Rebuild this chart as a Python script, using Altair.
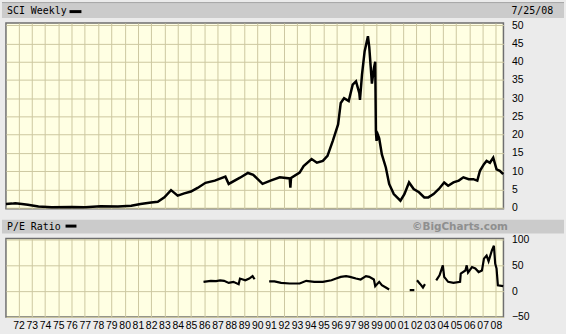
import altair as alt
import pandas as pd

# ---- data ----
price_years = [1971.05, 1971.5, 1971.75, 1972.25, 1972.7, 1973.5, 1974.5, 1976.0, 1977.0, 1978.2,
               1979.5, 1980.5, 1981.2, 1982.0, 1982.5, 1983.0, 1983.5, 1984.0, 1984.5, 1985.0,
               1985.5, 1986.1, 1986.8, 1987.6, 1987.85, 1988.7, 1989.3, 1989.7, 1990.4, 1991.0,
               1991.7, 1992.45, 1992.5, 1992.55, 1993.2, 1993.5, 1994.1, 1994.5, 1994.95, 1995.3,
               1995.7, 1996.1, 1996.3, 1996.55, 1996.9, 1997.2, 1997.45, 1997.7, 1997.75, 1997.9,
               1998.1, 1998.35, 1998.45, 1998.55, 1998.65, 1998.8, 1998.9, 1998.95, 1999.0, 1999.1,
               1999.2, 1999.4, 1999.7, 1999.95, 2000.3, 2000.8, 2001.1, 2001.45, 2001.8, 2002.2,
               2002.6, 2002.9, 2003.3, 2003.7, 2004.1, 2004.4, 2004.8, 2005.2, 2005.55, 2005.95,
               2006.3, 2006.6, 2006.8, 2007.1, 2007.3, 2007.55, 2007.8, 2008.05, 2008.3, 2008.55]
price_values = [1.0, 1.1, 1.2, 1.0, 0.8, 0.3, 0.1, 0.2, 0.1, 0.35,
                0.3, 0.5, 1.0, 1.4, 1.6, 2.8, 4.8, 3.3, 3.9, 4.4,
                5.4, 6.8, 7.4, 8.5, 6.5, 8.2, 9.5, 9.0, 6.5, 7.4,
                8.3, 8.0, 5.5, 8.1, 9.6, 11.4, 13.3, 12.3, 12.8, 14.2,
                18.3, 22.8, 28.7, 30.0, 29.2, 33.7, 34.6, 31.4, 29.5, 36.4,
                42.8, 47.0, 44.0, 39.0, 34.0, 38.2, 40.0, 21.0, 18.3, 20.0,
                19.0, 14.6, 11.0, 6.5, 3.7, 1.9, 3.7, 6.9, 5.1, 4.2,
                2.8, 2.8, 3.7, 5.1, 6.9, 6.0, 6.9, 7.4, 8.3, 7.8,
                7.8, 7.4, 10.1, 11.9, 12.8, 12.3, 13.7, 10.5, 10.1, 9.2]

pe_years = [1985.95, 1986.5, 1986.9, 1987.2, 1987.5, 1987.85, 1988.2, 1988.6, 1988.7, 1989.1,
            1989.4, 1989.65, 1989.8,
            1990.9, 1991.3, 1991.8, 1992.45, 1993.2, 1993.7, 1994.3, 1994.95, 1995.6, 1995.95,
            1996.3, 1996.7, 1997.0, 1997.45, 1997.8, 1998.2, 1998.45, 1998.8, 1998.9, 1999.2,
            1999.4, 1999.7, 1999.95,
            2001.5, 2001.85,
            2002.05, 2002.3, 2002.5, 2002.65,
            2003.5, 2003.75, 2004.0, 2004.1, 2004.4, 2004.8, 2005.3, 2005.35, 2005.7, 2005.8,
            2005.9, 2006.2, 2006.45, 2006.7, 2006.95, 2007.1, 2007.3, 2007.45, 2007.7, 2007.85,
            2007.95, 2008.05, 2008.15, 2008.55]
pe_values = [18, 20, 19.5, 21, 20, 16, 18, 13.5, 24.4, 21,
             24.4, 29, 23,
             19, 19, 16, 14.8, 14.8, 20, 18, 18, 21, 24.4,
             27.6, 29, 27.6, 24.4, 22.5, 29, 27.6, 22.5, 9.6, 18,
             11.5, 7, 3.2,
             2, 2,
             21, 13.5, 7, 13.5,
             21, 30.8, 50, 27.6, 18, 16, 18, 34, 40, 50,
             36, 46.7, 44, 37, 40, 63, 69, 58, 79, 88,
             53, 44, 11.5, 9.6]
pe_segment = [1] * 13 + [2] * 23 + [3] * 2 + [4] * 4 + [5] * 24

year_ticks = list(range(1972, 2009))
price_ticks = list(range(0, 51, 5))
pe_ticks = [-50, 0, 50, 100]

top_title = "SCI Weekly"
top_date = "7/25/08"
bottom_title = "P/E Ratio"
credit = "\u00a9BigCharts.com"

# ---- layout ----
W, H1, H2 = 501, 187, 79
HEADER = "#cbcbcb"
price_df = pd.DataFrame({"year": price_years, "price": price_values})
pe_df = pd.DataFrame({"year": pe_years, "pe": pe_values, "seg": pe_segment})
one = pd.DataFrame({"a": [0]})

xscale = alt.Scale(domain=[1971.05, 2008.57], nice=False, zero=False)


def header(y0, y1, title, ty, rect_x, rect_y):
    base = alt.Chart(one)
    bar = base.mark_rect(color=HEADER).encode(
        x=alt.value(-4), x2=alt.value(562), y=alt.value(y0), y2=alt.value(y1))
    txt = base.mark_text(align="left", baseline="middle", font="DejaVu Sans Mono",
                         fontSize=10, color="black").encode(
        x=alt.value(1), y=alt.value(ty), text=alt.value(title))
    swatch = base.mark_rect(color="black").encode(
        x=alt.value(rect_x[0]), x2=alt.value(rect_x[1]),
        y=alt.value(rect_y[0]), y2=alt.value(rect_y[1]))
    return [bar, txt, swatch]


top_line = alt.Chart(price_df).mark_line(color="black", strokeWidth=2.5).encode(
    x=alt.X("year:Q", scale=xscale,
            axis=alt.Axis(values=year_ticks, labels=False, ticks=False, domain=False,
                          title=None, grid=True)),
    y=alt.Y("price:Q", scale=alt.Scale(domain=[-0.3, 50.6], nice=False, zero=False),
            axis=alt.Axis(orient="right", values=price_ticks, ticks=False, domain=False,
                          title=None, labelAlign="left", labelPadding=8, grid=True)),
)
top_rule = alt.Chart(one).mark_rule(color="#9a9a9a").encode(
    x=alt.value(-4), x2=alt.value(562), y=alt.value(-20.5))
top_date_txt = alt.Chart(one).mark_text(align="left", baseline="middle",
                                        font="DejaVu Sans Mono", fontSize=10,
                                        color="black").encode(
    x=alt.value(509), y=alt.value(-12), text=alt.value(top_date))

top = alt.layer(*header(-20, -5, top_title, -12, (64, 76), (-13, -10)),
                top_rule, top_date_txt, top_line).properties(width=W, height=H1)

bottom_line = alt.Chart(pe_df).mark_line(color="black", strokeWidth=2.2).encode(
    x=alt.X("year:Q", scale=xscale,
            axis=alt.Axis(values=year_ticks, ticks=False, domain=False, title=None,
                          grid=True, labelOverlap=False, labelPadding=4,
                          labelExpr="substring(format(datum.value, 'd'), 2)")),
    y=alt.Y("pe:Q", scale=alt.Scale(domain=[-50, 102], nice=False, zero=False),
            axis=alt.Axis(orient="right", values=pe_ticks, ticks=False, domain=False,
                          title=None, labelAlign="left", labelPadding=8, grid=True)),
    detail="seg:N",
)
credit_txt = alt.Chart(one).mark_text(align="left", baseline="middle", font="DejaVu Sans",
                                      fontSize=10.5, fontWeight="bold",
                                      color="#8f8f8f").encode(
    x=alt.value(409), y=alt.value(-12), text=alt.value(credit))

bottom = alt.layer(*header(-19, -5, bottom_title, -12, (60, 71), (-14, -11)),
                   credit_txt, bottom_line).properties(width=W, height=H2)

chart = alt.vconcat(top, bottom, spacing=30, bounds="flush").properties(
    padding={"left": 0, "top": 0, "right": 0, "bottom": 3},
    autosize=alt.AutoSizeParams(type="pad"),
).configure(background="#ebebeb").configure_view(
    fill="#ffffe3", stroke="#6f6f6f", strokeWidth=1.5
).configure_axis(
    labelFont="Liberation Sans", labelFontSize=10.5, labelColor="black",
    gridColor="#cdc8a0", gridOpacity=1, gridWidth=1,
)

chart.save("out.html", embed_options={"renderer": "svg", "actions": False})
